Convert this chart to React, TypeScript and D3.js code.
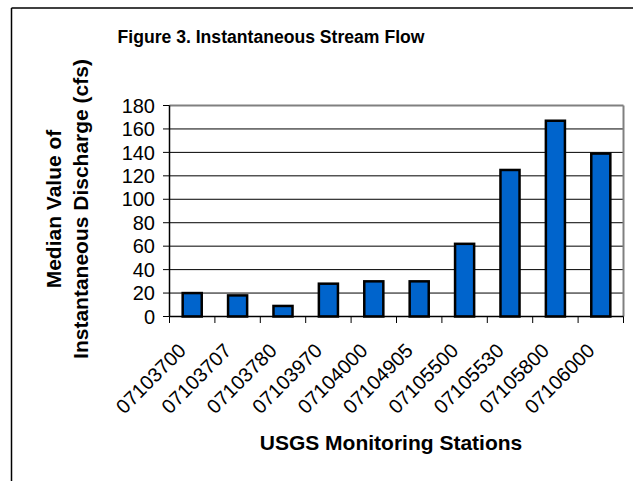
import React from 'react';
import * as d3 from 'd3';

// station ids along the x axis
const stations = ['07103700', '07103707', '07103780', '07103970', '07104000',
  '07104905', '07105500', '07105530', '07105800', '07106000'];
// median instantaneous discharge (cfs)
const medians = [20, 18, 9, 28, 30, 30, 62, 125, 167, 139];
const yTicks = [0, 20, 40, 60, 80, 100, 120, 140, 160, 180];

const FONT = '"Liberation Sans", Arial, sans-serif';

const App = () => {
  const width = 633, height = 481;
  const left = 169.5, right = 623.5, top = 105.5, bottom = 316.5;

  const x = d3.scaleBand().domain(stations).range([left, right]).paddingInner(0.58).paddingOuter(0.29);
  const xStep = d3.scaleBand().domain(stations).range([left, right]);
  const y = d3.scaleLinear().domain([0, 180]).range([bottom, top]);

  const bars = stations.map((s, i) => (
    <rect key={s} x={x(s)} y={y(medians[i])} width={x.bandwidth()} height={bottom - y(medians[i])}
      fill="#0064CC" stroke="#000" strokeWidth={2.5} />
  ));

  const grid = yTicks.filter(t => t > 0 && t < 180).map(t => (
    <line key={t} x1={left} x2={right} y1={y(t)} y2={y(t)} stroke="#000" strokeWidth={1} />
  ));

  const yLabels = yTicks.map(t => (
    <g key={t}>
      <line x1={left - 6.5} x2={left} y1={y(t)} y2={y(t)} stroke="#000" strokeWidth={1} />
      <text x={155} y={y(t) + 7.2} textAnchor="end" fontSize={20} fontFamily={FONT} fill="#000">{t}</text>
    </g>
  ));

  const xTicks = d3.range(stations.length + 1).map(i => {
    const px = left + i * xStep.step();
    return <line key={i} x1={px} x2={px} y1={bottom} y2={bottom + 6.5} stroke="#000" strokeWidth={1} />;
  });

  const xLabels = stations.map(s => {
    const cx = (xStep(s) as number) + xStep.bandwidth() / 2;
    return (
      <text key={s} transform={`translate(${cx - 5},${352}) rotate(-45)`} textAnchor="end"
        fontSize={20} fontFamily={FONT} fill="#000">{s}</text>
    );
  });

  return (
    <svg width={width} height={height} style={{ position: 'absolute', left: 0, top: 0, background: '#fff' }}>
      <rect x={0} y={0} width={width} height={height} fill="#fff" />
      {/* chart frame, only top and left edges visible */}
      <line x1={11.5} x2={width} y1={8} y2={8} stroke="#000" strokeWidth={1.5} />
      <line x1={11.5} x2={11.5} y1={8} y2={height} stroke="#000" strokeWidth={1.5} />

      <text x={271} y={43} textAnchor="middle" fontSize={17.6} fontWeight="bold" fontFamily={FONT}>
        Figure 3. Instantaneous Stream Flow
      </text>

      {grid}
      <line x1={left} x2={right} y1={top} y2={top} stroke="#808080" strokeWidth={2} />
      <line x1={right} x2={right} y1={top} y2={bottom} stroke="#808080" strokeWidth={2} />
      {bars}
      <line x1={left} x2={right} y1={bottom} y2={bottom} stroke="#000" strokeWidth={1.5} />
      <line x1={left} x2={left} y1={top} y2={bottom} stroke="#000" strokeWidth={1.5} />
      {yLabels}
      {xTicks}
      {xLabels}

      <g transform="translate(0,209) rotate(-90)" fontFamily={FONT} fontWeight="bold" fontSize={21} textAnchor="middle">
        <text x={0} y={61}>Median Value of</text>
        <text x={0} y={88}>Instantaneous Discharge (cfs)</text>
      </g>

      <text x={391} y={450} textAnchor="middle" fontSize={21} fontWeight="bold" fontFamily={FONT}>
        USGS Monitoring Stations
      </text>
    </svg>
  );
};

export default App;
